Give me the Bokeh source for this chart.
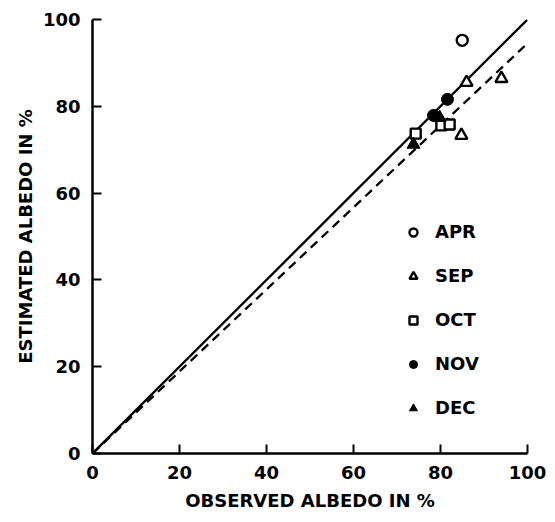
from bokeh.plotting import figure
from bokeh.models import Range1d, FixedTicker, Legend, LegendItem
from bokeh.embed import file_html
from bokeh.resources import INLINE

# Data (observed %, estimated %)
apr_x = [85.0]
apr_y = [95.2]
sep_x = [86.0, 94.0, 84.8]
sep_y = [85.5, 86.4, 73.3]
oct_x = [74.3, 80.2, 82.1]
oct_y = [73.7, 75.6, 75.8]
nov_x = [81.6, 78.4]
nov_y = [81.6, 77.9]
dec_x = [73.8, 79.8]
dec_y = [71.2, 77.4]

line_x = [0, 100]
one_to_one_y = [0, 100]
fit_y = [0, 94.5]

ticks = [0, 20, 40, 60, 80, 100]

FONT = "DejaVu Sans"
FS = "18px"

p = figure(width=555, height=522, output_backend="svg", toolbar_location=None,
           x_range=Range1d(0, 100), y_range=Range1d(0, 100),
           min_border_left=92, min_border_right=28, min_border_top=19, min_border_bottom=69)
p.outline_line_color = None
p.grid.visible = False

for ax in (p.xaxis[0], p.yaxis[0]):
    ax.ticker = FixedTicker(ticks=ticks)
    ax.axis_line_width = 2.5
    ax.axis_line_color = "black"
    ax.major_tick_line_width = 2
    ax.major_tick_line_color = "black"
    ax.major_tick_in = 9
    ax.major_tick_out = 0
    ax.minor_tick_line_color = None
    ax.major_label_text_font = FONT
    ax.major_label_text_font_style = "bold"
    ax.major_label_text_font_size = FS
    ax.major_label_text_color = "black"
    ax.axis_label_text_font = FONT
    ax.axis_label_text_font_style = "bold"
    ax.axis_label_text_font_size = FS
    ax.axis_label_text_color = "black"
    ax.major_label_standoff = 12

p.xaxis.axis_label = "OBSERVED ALBEDO IN %"
p.yaxis.axis_label = "ESTIMATED ALBEDO IN %"
p.xaxis.axis_label_standoff = 8
p.yaxis.axis_label_standoff = 4

p.line(line_x, one_to_one_y, line_color="black", line_width=2.3)
p.line(line_x, fit_y, line_color="black", line_width=2.3, line_dash="9 6")

r_apr = p.scatter(apr_x, apr_y, marker="circle", size=11, fill_color="white",
                  line_color="black", line_width=2.4)
r_sep = p.scatter(sep_x, sep_y, marker="triangle", size=12, fill_color="white",
                  line_color="black", line_width=2.4)
r_oct = p.scatter(oct_x, oct_y, marker="square", size=10, fill_color="white",
                  line_color="black", line_width=2.4)
r_nov = p.scatter(nov_x, nov_y, marker="circle", size=12, fill_color="black",
                  line_color="black", line_width=1)
r_dec = p.scatter(dec_x, dec_y, marker="triangle", size=13, fill_color="black",
                  line_color="black", line_width=1)

legend = Legend(items=[
    LegendItem(label="APR", renderers=[r_apr]),
    LegendItem(label="SEP", renderers=[r_sep]),
    LegendItem(label="OCT", renderers=[r_oct]),
    LegendItem(label="NOV", renderers=[r_nov]),
    LegendItem(label="DEC", renderers=[r_dec]),
], location=(311, 35))
legend.border_line_color = None
legend.background_fill_alpha = 0
legend.padding = 0
legend.margin = 0
legend.glyph_width = 20
legend.glyph_height = 20
legend.label_height = 20
legend.spacing = 23
legend.label_standoff = 12
legend.label_text_font = FONT
legend.label_text_font_style = "bold"
legend.label_text_font_size = FS
legend.label_text_color = "black"
p.add_layout(legend, "center")

open("out.html", "w").write(file_html(p, INLINE))
